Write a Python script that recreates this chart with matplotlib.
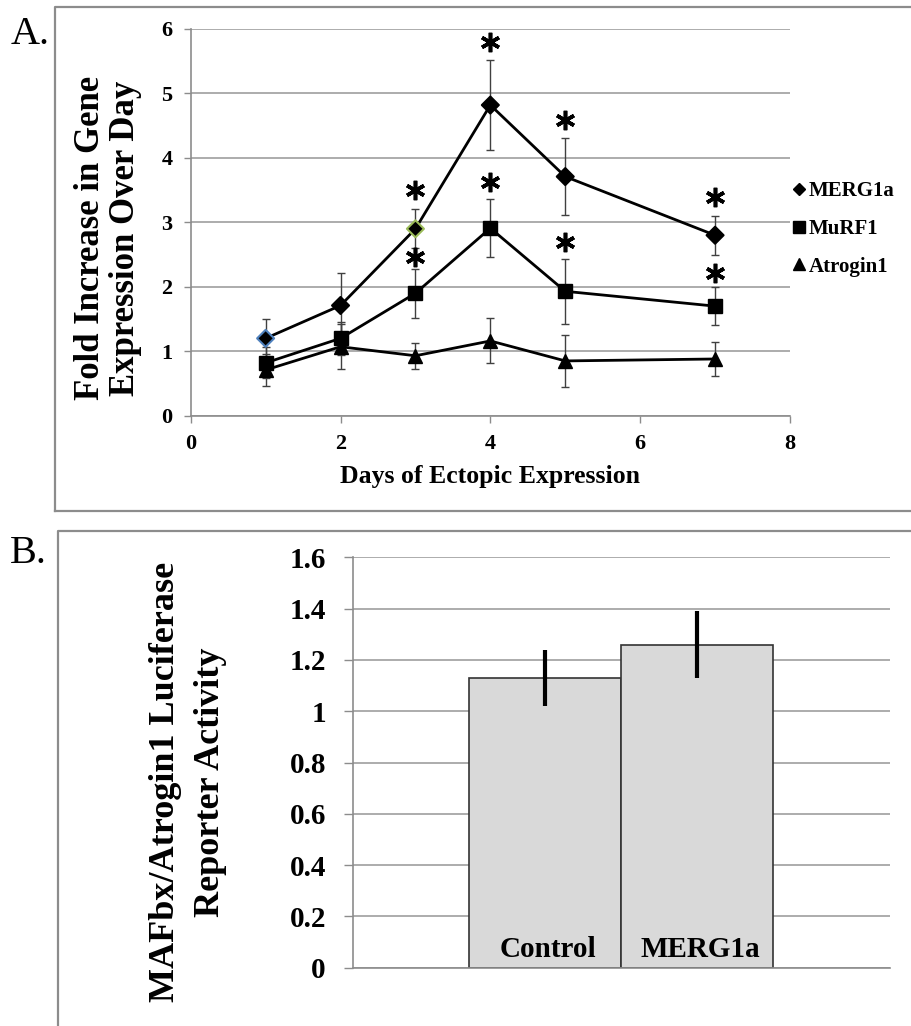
import matplotlib
matplotlib.use("Agg")
import matplotlib.pyplot as plt
from matplotlib.lines import Line2D
import numpy as np

# ---------------- data ----------------
days = [1, 2, 3, 4, 5, 7]
merg1a = [1.20, 1.71, 2.90, 4.82, 3.71, 2.80]
merg1a_err = [0.30, 0.50, 0.30, 0.70, 0.60, 0.30]
murf1 = [0.82, 1.20, 1.90, 2.91, 1.93, 1.70]
murf1_err = [0.24, 0.26, 0.38, 0.45, 0.50, 0.30]
atrogin1 = [0.71, 1.07, 0.93, 1.16, 0.85, 0.88]
atrogin1_err = [0.25, 0.35, 0.20, 0.35, 0.40, 0.27]
merg1a_edge = ['#4f81bd', 'black', '#9bbb59', 'black', 'black', 'black']
series_names = ['MERG1a', 'MuRF1', 'Atrogin1']
star_days = [3, 4, 5, 7, 3, 4, 5, 7]
star_y = [3.50, 5.80, 4.59, 3.39, 2.47, 3.63, 2.69, 2.21]
xticks_a = [0, 2, 4, 6, 8]
yticks_a = [0, 1, 2, 3, 4, 5, 6]

bar_labels = ['Control', 'MERG1a']
bar_values = [1.13, 1.26]
bar_err = [0.11, 0.13]
yticks_b = [0, 0.2, 0.4, 0.6, 0.8, 1.0, 1.2, 1.4, 1.6]
ytick_labels_b = ['0', '0.2', '0.4', '0.6', '0.8', '1', '1.2', '1.4', '1.6']

# ---------------- style ----------------
plt.rcParams['font.family'] = ['Liberation Serif', 'DejaVu Serif']
plt.rcParams['font.weight'] = 'bold'
W, H = 911, 1026
fig = plt.figure(figsize=(W / 100, H / 100), dpi=100)
GRID = '#a6a6a6'
SPINE = '#8c8c8c'

def fx(px):
    return px / W

def fy(py):
    return 1 - py / H

# panel frames
fig.add_artist(Line2D([fx(55), fx(55), 1.0], [fy(510.7), fy(7), fy(7)],
                      transform=fig.transFigure, color='#8c8c8c', lw=1.6))
fig.add_artist(Line2D([fx(55), 1.0], [fy(510.7), fy(510.7)],
                      transform=fig.transFigure, color='#8c8c8c', lw=1.6))
fig.add_artist(Line2D([fx(58), fx(58), 1.0], [0.0, fy(530.7), fy(530.7)],
                      transform=fig.transFigure, color='#8c8c8c', lw=1.6))

fig.text(fx(11), fy(44), 'A.', fontsize=29, fontweight='normal', ha='left', va='baseline')
fig.text(fx(10), fy(563), 'B.', fontsize=29, fontweight='normal', ha='left', va='baseline')

# ---------------- Panel A ----------------
axA = fig.add_axes([fx(190.7), fy(415.7), fx(790) - fx(190.7), fy(29) - fy(415.7)])
axA.set_xlim(0, 8)
axA.set_ylim(0, 6)
axA.set_xticks(xticks_a)
axA.set_yticks(yticks_a)
axA.yaxis.grid(True, color=GRID, lw=1.3)
axA.set_axisbelow(True)
for s in ['top', 'right']:
    axA.spines[s].set_visible(False)
for s in ['left', 'bottom']:
    axA.spines[s].set_color(SPINE)
    axA.spines[s].set_linewidth(1.2)
axA.tick_params(axis='both', colors=SPINE, length=5, width=1.0, direction='out')
axA.tick_params(axis='y', labelsize=16, labelcolor='black', pad=8)
axA.tick_params(axis='x', labelsize=16, labelcolor='black', pad=8)

ekw = dict(ecolor='#404040', elinewidth=1.0, capsize=2.8, capthick=1.0)
axA.errorbar(days, merg1a, yerr=merg1a_err, fmt='none', zorder=2, **ekw)
axA.errorbar(days, murf1, yerr=murf1_err, fmt='none', zorder=2, **ekw)
axA.errorbar(days, atrogin1, yerr=atrogin1_err, fmt='none', zorder=2, **ekw)
axA.plot(days, merg1a, color='black', lw=2, zorder=3)
axA.scatter(days, merg1a, marker='D', s=75, c='black', edgecolors=merg1a_edge,
            linewidths=1.5, zorder=4)
axA.plot(days, murf1, color='black', lw=2, marker='s', ms=9.5, zorder=3)
axA.plot(days, atrogin1, color='black', lw=2, marker='^', ms=10, zorder=3)
axA.plot(star_days, star_y, linestyle='none', marker=(6, 2, 0), ms=14,
         mew=2.6, color='black', zorder=5)

fig.text(fx(490), fy(476), 'Days of Ectopic Expression', fontsize=18.5,
         ha='center', va='center')
fig.text(fx(108), fy(238), 'Fold Increase in Gene\nExpression Over Day',
         fontsize=25, rotation=90, ha='center', va='center',
         multialignment='center', linespacing=1.05)

handles = [Line2D([], [], linestyle='none', marker='D', ms=6, color='black'),
           Line2D([], [], linestyle='none', marker='s', ms=8, color='black'),
           Line2D([], [], linestyle='none', marker='^', ms=8, color='black')]
fig.legend(handles, series_names, loc='center left',
           bbox_to_anchor=(fx(793), fy(229)), bbox_transform=fig.transFigure,
           frameon=False, fontsize=15, handlelength=0.6, handletextpad=0.15,
           labelspacing=0.85, borderpad=0, borderaxespad=0)

# ---------------- Panel B ----------------
axB = fig.add_axes([fx(353), fy(967.7), fx(889.5) - fx(353), fy(557.3) - fy(967.7)])
axB.set_xlim(0, 1)
axB.set_ylim(0, 1.6)
axB.set_yticks(yticks_b)
axB.set_yticklabels(ytick_labels_b)
axB.set_xticks([])
axB.yaxis.grid(True, color=GRID, lw=1.3)
axB.set_axisbelow(True)
for s in ['top', 'right']:
    axB.spines[s].set_visible(False)
for s in ['left', 'bottom']:
    axB.spines[s].set_color(SPINE)
    axB.spines[s].set_linewidth(1.2)
axB.tick_params(axis='y', colors=SPINE, length=6.5, width=1.0, labelsize=21,
                labelcolor='black', pad=13)

bw = 0.2836
xpos = [0.5 + (i - (len(bar_values) - 1) / 2) * bw for i in range(len(bar_values))]
axB.bar(xpos, bar_values, width=bw, color='#d9d9d9', edgecolor='#333333',
        linewidth=1.2, zorder=2)
axB.errorbar(xpos, bar_values, yerr=bar_err, fmt='none', ecolor='black',
             elinewidth=3, capsize=0, zorder=3)
for x, lab in zip(xpos, bar_labels):
    axB.annotate(lab, (x, 0), xytext=(2, 8), textcoords='offset points',
                 ha='center', va='baseline', fontsize=21, zorder=4)

fig.text(fx(188), fy(782), 'MAFbx/Atrogin1 Luciferase\nReporter Activity',
         fontsize=26, rotation=90, ha='center', va='center',
         multialignment='center', linespacing=1.5)

fig.savefig('out.png', dpi=100)
